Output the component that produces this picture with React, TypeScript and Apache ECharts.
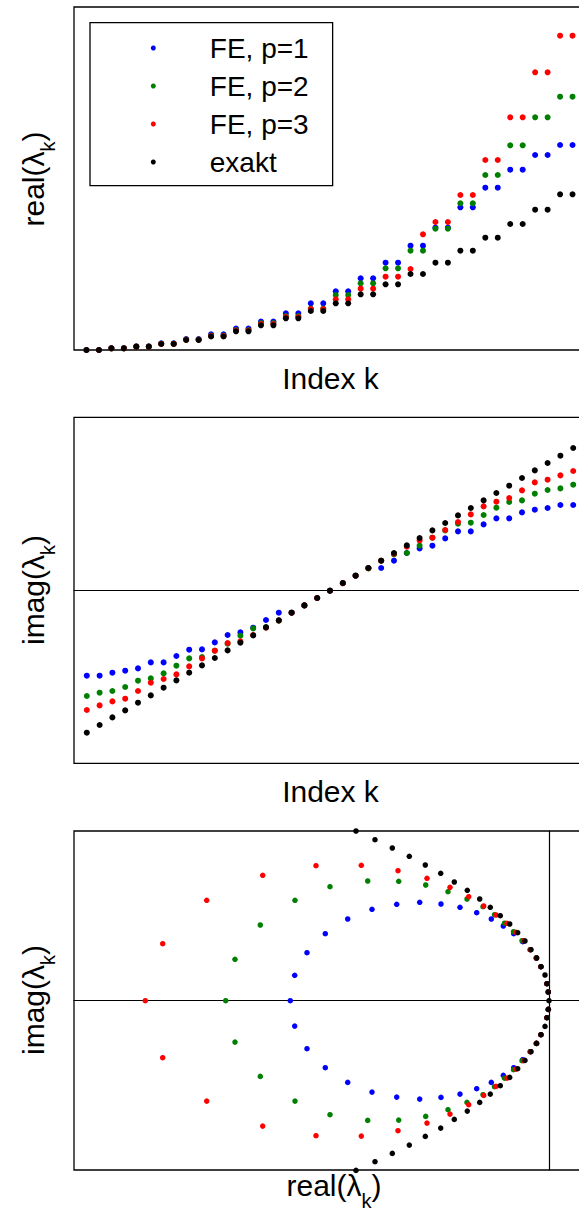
import React, { useEffect, useRef } from "react";
import * as echarts from "echarts";

const FONT = "'Liberation Sans', Arial, Helvetica, sans-serif";

const NAMES = ["FE, p=1", "FE, p=2", "FE, p=3", "exakt"];
const COLORS = ["#0000ff", "#008000", "#ff0000", "#000000"];

// ---------- Panel 1: real(lambda_k) vs index k ----------
const p1Index = [1, 2, 3, 4, 5, 6, 7, 8, 9, 10, 11, 12, 13, 14, 15, 16, 17, 18, 19, 20, 21, 22, 23, 24, 25, 26, 27, 28, 29, 30, 31, 32, 33, 34, 35, 36, 37, 38, 39, 40];
const p1Blue = [0, 0, 1.8, 1.8, 3.6, 3.6, 6.6, 6.6, 11, 11, 15.7, 15.7, 21.5, 21.5, 28.5, 28.5, 36.7, 36.7, 46.7, 46.7, 58.7, 58.7, 71.7, 71.7, 87.3, 87.3, 104.3, 104.3, 122.5, 122.5, 142.7, 142.7, 162.3, 162.3, 180.3, 180.3, 195, 195, 205, 205];
const p1Green = [0, 0, 1.7, 1.7, 3.4, 3.4, 6.3, 6.3, 10.5, 10.5, 14.5, 14.5, 20, 20, 27, 27, 34, 34, 41.5, 41.5, 55, 55, 66.7, 66.7, 81.7, 81.7, 99.3, 99.3, 121.3, 121.3, 146.7, 146.7, 175, 175, 204.7, 204.7, 232.7, 232.7, 253.3, 253.3];
const p1Red = [0, 0, 1.7, 1.7, 3.3, 3.3, 6.1, 6.1, 10.2, 10.2, 14, 14, 19.5, 19.5, 26, 26, 33, 33, 41, 41, 50.7, 50.7, 61.3, 61.3, 73.3, 73.3, 81, 115.7, 128, 128, 155, 155, 190, 190, 232.7, 232.7, 277.7, 277.7, 314.3, 314.3];
const p1Black = [0, 0, 1.7, 1.7, 3.3, 3.3, 6, 6, 10, 10, 13.5, 13.5, 18.7, 18.7, 24.7, 24.7, 31.7, 31.7, 39, 39, 46.7, 46.7, 55.7, 55.7, 65.7, 65.7, 76, 76, 87.3, 87.3, 99.3, 99.3, 112.3, 112.3, 126, 126, 140.3, 140.3, 155.7, 155.7];

// ---------- Panel 2: imag(lambda_k) vs index k ----------
const p2Index = [1, 2, 3, 4, 5, 6, 7, 8, 9, 10, 11, 12, 13, 14, 15, 16, 17, 18, 19, 20, 21, 22, 23, 24, 25, 26, 27, 28, 29, 30, 31, 32, 33, 34, 35, 36, 37, 38, 39];
const p2Blue = [-85, -85, -82, -80, -77.7, -71.7, -71.7, -65.3, -59, -58.7, -51.7, -44.3, -41.7, -37, -29.3, -22, -22, -14.7, -7.3, 0, 7.5, 15, 22.7, 22.7, 30, 37.7, 42.3, 45, 52.3, 59.3, 59.3, 66.3, 72.3, 72.3, 78.3, 81, 82.7, 85.7, 85.7];
const p2Green = [-105.3, -102, -100.3, -96.3, -90, -87.7, -82.7, -75, -67.7, -66.3, -60, -53, -45, -37.7, -36.3, -30, -22, -14.7, -7.3, 0, 7.5, 15, 22.3, 30, 36.3, 37.7, 45, 53, 60.3, 67, 68, 75.7, 83, 88.7, 90.3, 97, 100.7, 102.3, 106];
const p2Red = [-119.3, -114.7, -110.7, -108, -100.3, -92, -88.3, -83.7, -75.7, -67.7, -60, -52.3, -50.7, -44.3, -37, -29.7, -22, -14.7, -7.3, 0, 7.5, 15, 22.5, 30, 37, 44, 50.3, 53, 60.7, 68.7, 76.3, 84.3, 89, 92.7, 100.3, 108.3, 111, 115.3, 119.7];
const p2Black = [-142, -134.3, -126.7, -119.7, -112, -104.7, -97, -89.7, -82, -74.7, -67.3, -59.7, -52, -44.7, -36.7, -29.7, -22, -14.7, -7.3, 0, 7.7, 15, 22.7, 30, 37.7, 45.3, 52.7, 60.3, 67.7, 75.3, 82.7, 90.3, 97.7, 105, 112.7, 120.3, 127.7, 135, 142.7];

// ---------- Panel 3: eigenvalues in the complex plane ----------
const p3BlueRe = [-258.7, -254.3, -242, -223.7, -201.3, -177, -152.3, -129.3, -108, -89, -72.3, -57.7, -45.7, -35.3, -26.3, -18.5, -12.8, -8.2, -2.2, -0.7, -254.3, -242, -223.7, -201.3, -177, -152.3, -129.3, -108, -89, -72.3, -57.7, -45.7, -35.3, -26.3, -18.5, -12.8, -8.2, -2.2, -0.7];
const p3BlueIm = [0, 25.4, 48, 67, 81.7, 91.4, 96.4, 98.4, 96.7, 93.4, 88, 81.7, 74.7, 67, 59, 51, 42.7, 34, 17, 8.7, -25.4, -48, -67, -81.7, -91.4, -96.4, -98.4, -96.7, -93.4, -88, -81.7, -74.7, -67, -59, -51, -42.7, -34, -17, -8.7];
const p3GreenRe = [-323.3, -314, -288.7, -254, -219, -181.3, -150.3, -123.3, -101, -82, -66, -54.5, -44.5, -35.5, -27, -19, -12.6, -8.1, -2, -0.7, -314, -288.7, -254, -219, -181.3, -150.3, -123.3, -101, -82, -66, -54.5, -44.5, -35.5, -27, -19, -12.6, -8.1, -2, -0.7];
const p3GreenIm = [0, 41.4, 75.7, 100.4, 114, 119.7, 119.4, 115.7, 109, 101.7, 94, 86, 77.5, 69, 60, 51, 42.7, 34, 17, 8.7, -41.4, -75.7, -100.4, -114, -119.7, -119.4, -115.7, -109, -101.7, -94, -86, -77.5, -69, -60, -51, -42.7, -34, -17, -8.7];
const p3RedRe = [-403.7, -386.3, -342.3, -286.3, -233, -187.7, -151, -122, -99, -80.3, -65.3, -53, -42, -33, -25.3, -18.5, -12.6, -8.1, -2.1, -0.7, -386.3, -342.3, -286.3, -233, -187.7, -151, -122, -99, -80.3, -65.3, -53, -42, -33, -25.3, -18.5, -12.6, -8.1, -2.1, -0.7];
const p3RedIm = [0, 57, 100.4, 125.4, 135, 135.4, 130, 122.4, 113.4, 104, 94.7, 85.7, 77.4, 68.4, 60, 51, 42.7, 34, 17, 8.7, -57, -100.4, -125.4, -135, -135.4, -130, -122.4, -113.4, -104, -94.7, -85.7, -77.4, -68.4, -60, -51, -42.7, -34, -17, -8.7];
const p3BlackRe = [-193, -174, -156.7, -139.7, -123.7, -108.3, -94.7, -81.7, -69.3, -58.7, -48.7, -39.3, -31.3, -24, -18, -12.3, -8, -4, -2, -0.7, 0, -0.7, -2, -4, -8, -12.3, -18, -24, -31.3, -39.3, -48.7, -58.7, -69.3, -81.7, -94.7, -108.3, -123.7, -139.7, -156.7, -174, -193];
const p3BlackIm = [169.7, 161, 152.7, 144.4, 135.7, 127.4, 118.7, 110.4, 101.7, 93.4, 85, 76.7, 68, 59.7, 51, 42.7, 34, 25.7, 17, 8.7, 0, -8.7, -17, -25.7, -34, -42.7, -51, -59.7, -68, -76.7, -85, -93.4, -101.7, -110.4, -118.7, -127.4, -135.7, -144.4, -152.7, -161, -169.7];

const zip = (xs: number[], ys: number[]) => xs.map((x, i) => [x, ys[i]]);

function scatter(name: string, color: string, data: number[][], idx: number, size: number) {
  return {
    type: "scatter",
    name,
    data,
    xAxisIndex: idx,
    yAxisIndex: idx,
    symbol: "circle",
    symbolSize: size,
    itemStyle: { color, opacity: 1 },
    clip: false,
    silent: true,
    emphasis: { disabled: true },
  };
}

const hiddenAxisParts = {
  axisTick: { show: false },
  axisLabel: { show: false },
  splitLine: { show: false },
};
const zeroLine = { show: true, onZero: true, lineStyle: { color: "#000", width: 1.2 } };

const mainTok = { fontFamily: FONT, fontSize: 30, lineHeight: 50, fill: "#000" };
const subTok = { fontFamily: FONT, fontSize: 20, lineHeight: 20, verticalAlign: "bottom", fill: "#000" };

function labelText(x: number, y: number, text: string, rotated: boolean) {
  return {
    type: "text",
    x,
    y,
    rotation: rotated ? Math.PI / 2 : 0,
    silent: true,
    style: {
      text,
      rich: { a: mainTok, b: subTok },
      fontFamily: FONT,
      fontSize: 30,
      fill: "#000",
      align: "center",
      verticalAlign: "middle",
      textAlign: "center",
      textVerticalAlign: "middle",
    },
  };
}

// The plot boxes continue past the right edge of the 579px page, so the
// chart canvas is wider and the outer wrapper crops it.
const CHART_W = 620;
const CHART_H = 1216;

export default function App() {
  const ref = useRef<HTMLDivElement>(null);

  useEffect(() => {
    if (!ref.current) return;
    const chart = echarts.init(ref.current, null, { renderer: "svg" });

    const grids = [
      { left: 74, top: 7, width: 511, height: 343 },
      { left: 74, top: 417.3, width: 512, height: 346 },
      { left: 74, top: 831, width: 511, height: 339 },
    ].map((g) => ({
      ...g,
      show: true,
      borderColor: "#000",
      borderWidth: 1.3,
      backgroundColor: "transparent",
      containLabel: false,
      outerBoundsMode: "none",
    }));

    const p1 = [p1Blue, p1Green, p1Red, p1Black];
    const p2 = [p2Blue, p2Green, p2Red, p2Black];
    const p3 = [
      zip(p3BlueRe, p3BlueIm),
      zip(p3GreenRe, p3GreenIm),
      zip(p3RedRe, p3RedIm),
      zip(p3BlackRe, p3BlackIm),
    ];

    const series: any[] = [];
    NAMES.forEach((n, i) => series.push(scatter(n, COLORS[i], zip(p1Index, p1[i]), 0, 6)));
    NAMES.forEach((n, i) => series.push(scatter(n, COLORS[i], zip(p2Index, p2[i]), 1, 6)));
    NAMES.forEach((n, i) => series.push(scatter(n, COLORS[i], p3[i], 2, 5.5)));

    chart.setOption({
      animation: false,
      backgroundColor: "#fff",
      textStyle: { fontFamily: FONT },
      grid: grids,
      xAxis: [
        { gridIndex: 0, type: "value", min: 0, max: 41, axisLine: { show: false }, ...hiddenAxisParts },
        { gridIndex: 1, type: "value", min: 0, max: 40, axisLine: zeroLine, ...hiddenAxisParts },
        { gridIndex: 2, type: "value", min: -475, max: 36, axisLine: zeroLine, ...hiddenAxisParts },
      ],
      yAxis: [
        { gridIndex: 0, type: "value", min: 0, max: 343, axisLine: { show: false }, ...hiddenAxisParts },
        { gridIndex: 1, type: "value", min: -172.6, max: 173.4, axisLine: { show: false }, ...hiddenAxisParts },
        { gridIndex: 2, type: "value", min: -169.3, max: 169.7, axisLine: zeroLine, ...hiddenAxisParts },
      ],
      legend: {
        data: NAMES,
        orient: "vertical",
        left: 90,
        top: 22.7,
        padding: [6.3, 24, 4.7, 60.8],
        itemGap: 0,
        itemWidth: 5,
        itemHeight: 5,
        icon: "circle",
        selectedMode: false,
        borderColor: "#000",
        borderWidth: 1.3,
        backgroundColor: "#fff",
        textStyle: { fontFamily: FONT, fontSize: 28, color: "#000", lineHeight: 38, padding: [0, 0, 0, 49] },
      },
      graphic: [
        labelText(33, 179, "{a|real(λ}{b|k}{a|)}", true),
        labelText(330.5, 378, "{a|Index k}", false),
        labelText(33, 590, "{a|imag(λ}{b|k}{a|)}", true),
        labelText(330.5, 791, "{a|Index k}", false),
        labelText(33, 1000, "{a|imag(λ}{b|k}{a|)}", true),
        labelText(334, 1185.6, "{a|real(λ}{b|k}{a|)}", false),
      ],
      series,
    });

    return () => chart.dispose();
  }, []);

  return (
    <div style={{ position: "absolute", left: 0, top: 0, width: 579, height: CHART_H, overflow: "hidden", background: "#fff" }}>
      <div ref={ref} style={{ width: CHART_W, height: CHART_H }} />
    </div>
  );
}
